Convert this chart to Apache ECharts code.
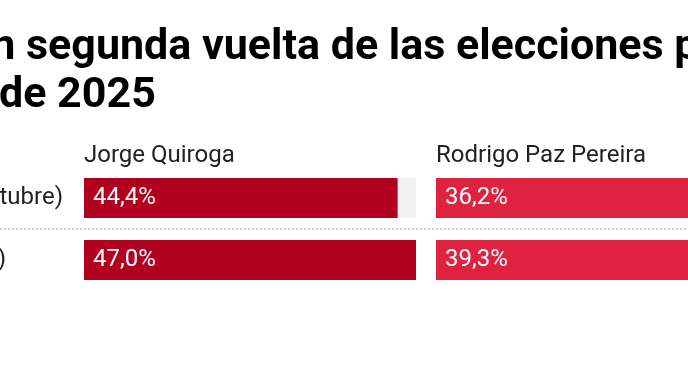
<!DOCTYPE html>
<html><head><meta charset="utf-8">
<script src="https://cdn.jsdelivr.net/npm/echarts@6/dist/echarts.min.js"></script>
<style>html,body{margin:0;padding:0;background:#fff;}#c{width:688px;height:366px;}</style>
</head><body><div id="c"></div>
<script>
// ---- data ----
var titleLine1 = "Intención de voto en segunda vuelta de las elecciones presidenciales";
var titleLine2 = "de Bolivia del 19 de octubre de 2025";
var rows = ["Ipsos Ciesmori (2-6 de octubre)", "Captura Consulting (sept.)"];
var candidates = ["Jorge Quiroga", "Rodrigo Paz Pereira"];
var quiroga = [44.4, 47.0];
var paz = [36.2, 39.3];
var scaleMax = 47.0;

// ---- helpers ----
function textW(txt, font) {
  var cv = document.createElement('canvas').getContext('2d');
  cv.font = font;
  return cv.measureText(txt).width;
}
var titleFont = 'bold 43px Roboto';
var t1Left = 27 - textW("Intención de voto en ", titleFont) - 1;
var t2Left = 0 - textW("de Bolivia del 19 de octubre ", titleFont) - 1;

var chart = echarts.init(document.getElementById('c'), null, {renderer: 'canvas'});
var colors = ['#b1001f', '#de2240'];
function fmt(p) { return p.value.toFixed(1).replace('.', ',') + '%'; }
function mkSeries(data, idx) {
  return {
    type: 'bar', xAxisIndex: idx, yAxisIndex: idx, data: data,
    barWidth: 40, itemStyle: {color: colors[idx]},
    showBackground: true, backgroundStyle: {color: '#f1f1f1'},
    label: {show: true, position: 'insideLeft', distance: 9, color: '#fff',
      fontFamily: 'Roboto', fontSize: 24, formatter: fmt},
    silent: true, animation: false
  };
}
var option = {
  animation: false,
  grid: [
    {left: 84, top: 167, width: 332, height: 124, containLabel: false, outerBoundsMode: 'none'},
    {left: 436, top: 167, width: 332, height: 124, containLabel: false, outerBoundsMode: 'none'}
  ],
  xAxis: [
    {gridIndex: 0, type: 'value', min: 0, max: scaleMax, show: false},
    {gridIndex: 1, type: 'value', min: 0, max: scaleMax, show: false}
  ],
  yAxis: [
    {gridIndex: 0, type: 'category', data: rows, inverse: true,
      axisLine: {show: false}, axisTick: {show: false}, splitLine: {show: false},
      axisLabel: {show: true, margin: 21, align: 'right', color: '#222',
        fontFamily: 'Roboto', fontSize: 24,
        formatter: function (v, i) { return i === 1 ? '{b|' + v + '}' : '{a|' + v + '}'; },
        rich: {a: {fontFamily: 'Roboto', fontSize: 24, color: '#222'},
               b: {fontFamily: 'Roboto', fontSize: 24, color: '#222', padding: [0, 57, 0, 0]}}}},
    {gridIndex: 1, type: 'category', data: rows, inverse: true, show: false}
  ],
  series: [mkSeries(quiroga, 0), mkSeries(paz, 1)],
  graphic: [
    {type: 'text', left: t1Left, top: 27, style: {text: titleLine1, font: titleFont, fill: '#000'}},
    {type: 'text', left: t2Left, top: 75, style: {text: titleLine2, font: titleFont, fill: '#000'}},
    {type: 'text', left: 84, top: 144, style: {text: candidates[0], font: '24px Roboto', fill: '#222'}},
    {type: 'text', left: 436, top: 144, style: {text: candidates[1], font: '24px Roboto', fill: '#222'}},
    {type: 'line', shape: {x1: 0, y1: 229, x2: 688, y2: 229},
      style: {stroke: '#d0d0d0', lineWidth: 2, lineDash: [2, 2]}}
  ]
};
chart.setOption(option);
</script></body></html>
